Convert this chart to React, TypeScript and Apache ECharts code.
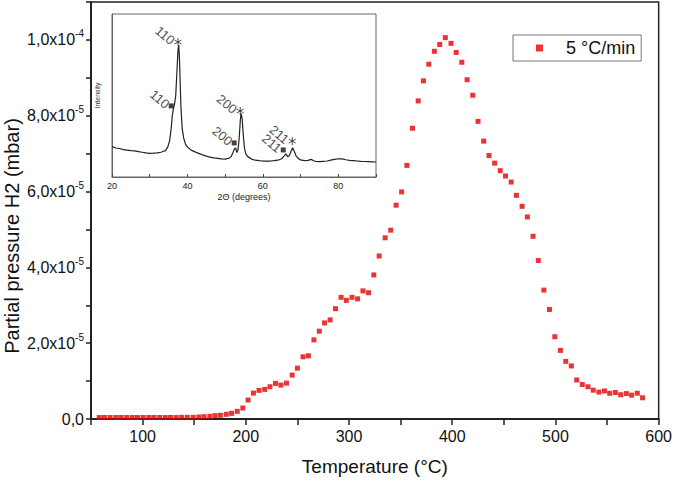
import React, { useEffect, useRef } from 'react';
import * as echarts from 'echarts';

// Main TPD data (temperature in °C, H2 partial pressure in units of 1e-5 mbar)
const temperatureC = [
  58, 63, 68.5, 74, 79, 84.5, 90, 95, 100.5, 106, 111, 116.5, 122, 127, 132.5,
  137.8, 143.3, 149.0, 154.5, 159.6, 165.1, 170.2, 175.3, 181.1, 186.2, 191.7, 197.1,
  202.2, 207.4, 212.8, 218.3, 223.4, 228.8, 234.0, 239.4, 244.9, 250.0, 255.4, 260.6,
  266.0, 271.2, 276.3, 281.7, 286.9, 292.3, 297.4, 302.9, 308.3, 313.5, 318.9, 324.0,
  329.2, 335.0, 340.4, 345.6, 351.0, 356.1, 361.5, 367.0, 372.1, 377.3, 382.7, 387.9,
  393.3, 398.8, 403.8, 409.3, 414.4, 419.9, 425.0, 430.5, 435.6, 441.1, 446.5, 451.6,
  457.1, 462.2, 467.7, 472.8, 478.3, 483.4, 488.8, 494.2, 499.4, 504.8, 510.0, 515.4,
  520.6, 526.0, 531.5, 536.6, 542.1, 547.5, 552.6, 558.1, 563.2, 568.7, 573.8, 579.3, 584.4,
];
const pressureE5 = [
  0.04, 0.04, 0.04, 0.04, 0.04, 0.04, 0.04, 0.04, 0.04, 0.04, 0.04, 0.04, 0.04, 0.04, 0.04,
  0.044, 0.044, 0.044, 0.053, 0.061, 0.07, 0.088, 0.097, 0.123, 0.149, 0.202, 0.289,
  0.50, 0.684, 0.754, 0.781, 0.851, 0.939, 0.895, 0.947, 1.158, 1.342, 1.64, 1.667,
  2.088, 2.316, 2.535, 2.614, 2.91, 3.21, 3.13, 3.21, 3.17, 3.38, 3.33, 3.80,
  4.30, 4.78, 4.98, 5.64, 5.99, 6.69, 7.67, 8.39, 8.92, 9.36, 9.70, 9.88,
  10.06, 9.91, 9.67, 9.41, 8.95, 8.54, 7.85, 7.33, 6.95, 6.75, 6.55, 6.41,
  6.25, 5.90, 5.61, 5.33, 4.82, 4.18, 3.40, 2.89, 2.17, 1.81, 1.52, 1.40,
  1.03, 0.91, 0.85, 0.76, 0.71, 0.74, 0.68, 0.70, 0.64, 0.67, 0.63, 0.68, 0.56,
];
const seriesName = '5 \u00B0C/min';

const xTickValues = [100, 200, 300, 400, 500, 600];
const yTickValues = [0, 2e-5, 4e-5, 6e-5, 8e-5, 1e-4];
const yTickMantissa = ['0,0', '2,0', '4,0', '6,0', '8,0', '1,0'];
const yTickExponent = ['', '-5', '-5', '-5', '-5', '-4'];

// Inset XRD pattern (2θ in degrees, intensity in arbitrary units)
const xrdAngle = [
  20, 21, 22, 23, 24, 25, 26, 27, 28, 29, 30, 31, 32, 33, 33.6, 34.2, 34.8, 35.3, 35.7, 36,
  36.3, 36.6, 36.9, 37.2, 37.5, 37.7, 37.9, 38.1, 38.3, 38.6, 39, 39.5, 40, 41, 42, 43, 44, 45,
  46, 47, 48, 49, 50, 51, 51.6, 52, 52.5, 52.8, 53.1, 53.4, 53.7, 54, 54.2, 54.5, 54.8, 55.1,
  55.5, 56, 57, 58, 59, 60, 61, 62, 63, 64, 65, 65.6, 66.1, 66.6, 67, 67.5, 67.9, 68.3, 68.8,
  69.5, 70, 71, 72, 72.8, 73.5, 74, 75, 76, 77, 78, 79, 80, 81, 82, 83, 84, 85, 86, 87, 88, 89, 90,
];
const xrdIntensity = [
  18.6, 17.8, 17.5, 16.8, 16.5, 16.2, 16, 15.6, 15.2, 14.8, 14.5, 14.6, 14.8, 15.2, 15.8, 16.2, 18.5, 22.5, 30, 38,
  42, 45, 50, 64, 78, 81, 72, 56, 42, 30, 24, 20, 18.4, 16.5, 15.4, 14.5, 13.6, 12.8,
  12.2, 11.7, 11.4, 11.1, 11, 11.5, 12.5, 14.5, 17.5, 17.8, 15, 16.5, 23, 34, 39, 36, 26, 18,
  14, 12.5, 11, 10.3, 10, 9.8, 9.7, 9.8, 10, 10.3, 11.2, 12.8, 14.2, 12.5, 13, 16, 18, 16, 13,
  11.2, 10.5, 10, 10.2, 10.8, 10, 9.5, 9.4, 9.6, 9.8, 10.3, 10.8, 11.2, 11.1, 10.6, 10.2, 10, 9.8, 9.6, 9.5, 9.4, 9.3, 9.2,
];
const insetTickValues = [20, 40, 60, 80];
const peakHkl = ['110', '200', '211'];
const squarePeakAngle = [35.7, 52.4, 65.4];
const squarePeakIntensity = [43.6, 20.9, 16.6];
const starPeakAngle = [37.5, 54.0, 67.8];
const starPeakIntensity = [82.8, 40.5, 22];

const FONT = 'Liberation Sans, Arial, sans-serif';
const ASTERISK = 'path://M5,0L5,10M0.67,2.5L9.33,7.5M0.67,7.5L9.33,2.5';

export default function App() {
  const ref = useRef<HTMLDivElement>(null);

  useEffect(() => {
    document.body.style.margin = '0';
    if (!ref.current) return;
    const chart = echarts.init(ref.current, null, { renderer: 'svg' });

    const mainData = temperatureC.map((t, i) => [t, pressureE5[i] * 1e-5]);
    const xrdData = xrdAngle.map((a, i) => [a, xrdIntensity[i]]);
    const squareData = peakHkl.map((h, i) => ({ name: h, value: [squarePeakAngle[i], squarePeakIntensity[i]] }));
    const starData = peakHkl.map((h, i) => ({ name: h, value: [starPeakAngle[i], starPeakIntensity[i]] }));

    const peakLabel = {
      show: true,
      formatter: (p: any) => p.name,
      position: 'left',
      distance: 1,
      rotate: -40,
      fontSize: 13,
      fontFamily: FONT,
      color: '#222',
      align: 'right',
      verticalAlign: 'middle',
    };

    const option: any = {
      animation: false,
      backgroundColor: '#fff',
      textStyle: { fontFamily: FONT },
      grid: [
        { left: 91, top: 2, right: 13, bottom: 61, show: true, borderColor: '#222', borderWidth: 1.5, backgroundColor: 'transparent' },
        { left: 112, top: 14, width: 264, height: 163, show: true, borderColor: '#666', borderWidth: 1, backgroundColor: '#fff' },
      ],
      legend: {
        data: [seriesName],
        left: 513,
        top: 35,
        padding: [4, 6, 4, 23],
        borderColor: '#777',
        borderWidth: 1,
        icon: 'rect',
        itemWidth: 7,
        itemHeight: 7,
        itemGap: 0,
        textStyle: { fontSize: 18, fontFamily: FONT, color: '#111', padding: [0, 0, 0, 18] },
      },
      xAxis: [
        {
          gridIndex: 0,
          type: 'value',
          min: 50,
          max: 600,
          interval: 50,
          name: 'Temperature (\u00B0C)',
          nameLocation: 'middle',
          nameGap: 38,
          nameTextStyle: { fontSize: 19, fontFamily: FONT, color: '#111' },
          axisLine: { show: true, onZero: false, lineStyle: { color: '#222', width: 2 } },
          axisTick: { show: true, length: 6, lineStyle: { color: '#222', width: 1.5 } },
          axisLabel: {
            fontSize: 16,
            fontFamily: FONT,
            color: '#111',
            margin: 9,
            formatter: (v: number) => (xTickValues.some((t) => Math.abs(t - v) < 1e-6) ? String(v) : ''),
          },
          splitLine: { show: false },
        },
        {
          gridIndex: 1,
          type: 'value',
          min: 20,
          max: 90,
          interval: 10,
          name: '2\u0398 (degrees)',
          nameLocation: 'middle',
          nameGap: 15,
          nameTextStyle: { fontSize: 9, fontFamily: FONT, color: '#222' },
          axisLine: { show: true, onZero: false, lineStyle: { color: '#666', width: 1 } },
          axisTick: { show: true, inside: true, length: 3, lineStyle: { color: '#444' } },
          axisLabel: {
            fontSize: 9,
            fontFamily: FONT,
            color: '#222',
            margin: 4,
            formatter: (v: number) => (insetTickValues.some((t) => Math.abs(t - v) < 1e-6) ? String(v) : ''),
          },
          splitLine: { show: false },
        },
      ],
      yAxis: [
        {
          gridIndex: 0,
          type: 'value',
          min: 0,
          max: 1.1e-4,
          interval: 1e-5,
          axisLine: { show: true, onZero: false, lineStyle: { color: '#222', width: 2 } },
          axisTick: { show: true, length: 5, lineStyle: { color: '#222', width: 1.5 } },
          axisLabel: {
            margin: 7,
            formatter: (v: number) => {
              const i = yTickValues.findIndex((t) => Math.abs(t - v) < 1e-9);
              if (i < 0) return '';
              if (!yTickExponent[i]) return `{m|${yTickMantissa[i]}}`;
              return `{m|${yTickMantissa[i]}x10}{e|${yTickExponent[i]}}`;
            },
            rich: {
              m: { fontSize: 16, fontFamily: FONT, color: '#111', lineHeight: 22 },
              e: { fontSize: 10, fontFamily: FONT, color: '#111', verticalAlign: 'top', lineHeight: 11 },
            },
          },
          splitLine: { show: false },
        },
        {
          gridIndex: 1,
          type: 'value',
          min: 0,
          max: 100,
          name: 'Intensity',
          nameLocation: 'middle',
          nameGap: 11,
          nameTextStyle: { fontSize: 7, fontFamily: FONT, color: '#333' },
          axisLine: { show: true, onZero: false, lineStyle: { color: '#666', width: 1 } },
          axisTick: { show: false },
          axisLabel: { show: false },
          splitLine: { show: false },
        },
      ],
      graphic: [
        {
          type: 'text',
          x: 12,
          y: 236,
          rotation: Math.PI / 2,
          style: {
            text: 'Partial pressure H2 (mbar)',
            fontSize: 20,
            fontFamily: FONT,
            fill: '#111',
            textAlign: 'center',
            textVerticalAlign: 'middle',
          },
        },
      ],
      series: [
        {
          name: seriesName,
          type: 'scatter',
          xAxisIndex: 0,
          yAxisIndex: 0,
          symbol: 'rect',
          symbolSize: 5,
          itemStyle: { color: '#e60000' },
          data: mainData,
        },
        {
          name: 'XRD',
          type: 'line',
          xAxisIndex: 1,
          yAxisIndex: 1,
          showSymbol: false,
          symbol: 'none',
          lineStyle: { color: '#222', width: 1.2 },
          data: xrdData,
          z: 3,
        },
        {
          name: 'peaksSquare',
          type: 'scatter',
          xAxisIndex: 1,
          yAxisIndex: 1,
          symbol: 'rect',
          symbolSize: 5,
          itemStyle: { color: '#111' },
          label: peakLabel,
          data: squareData,
          z: 4,
        },
        {
          name: 'peaksStar',
          type: 'scatter',
          xAxisIndex: 1,
          yAxisIndex: 1,
          symbol: ASTERISK,
          symbolKeepAspect: true,
          symbolSize: 8,
          itemStyle: { color: 'transparent', borderColor: '#222', borderWidth: 1 },
          label: peakLabel,
          data: starData,
          z: 4,
        },
      ],
    };

    chart.setOption(option);
    return () => chart.dispose();
  }, []);

  return <div ref={ref} style={{ width: 675, height: 481 }} />;
}
